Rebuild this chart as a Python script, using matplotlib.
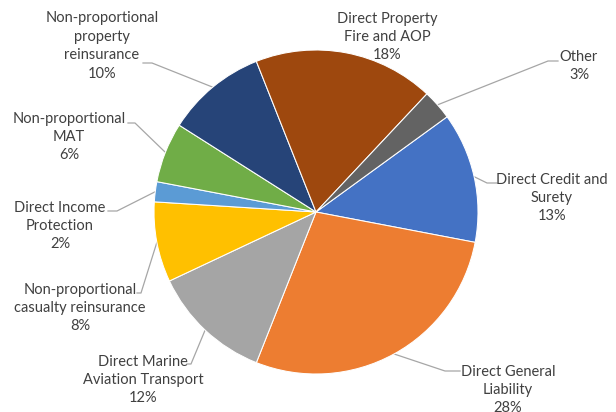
import numpy as np
import matplotlib.pyplot as plt

# Premium share by line of business
categories = [
    "Direct Credit and\nSurety",
    "Direct General\nLiability",
    "Direct Marine\nAviation Transport",
    "Non-proportional\ncasualty reinsurance",
    "Direct Income\nProtection",
    "Non-proportional\nMAT",
    "Non-proportional\nproperty\nreinsurance",
    "Direct Property\nFire and AOP",
    "Other",
]
shares = [13, 28, 12, 8, 2, 6, 10, 18, 3]

colors = ["#4472C4", "#ED7D31", "#A5A5A5", "#FFC000", "#5B9BD5",
          "#70AD47", "#264478", "#9E480E", "#636363"]

W, H = 616, 412
CX, CY, R = 316, 212, 162

# label centres and leader start / elbow points, in pixels from top-left
label_xy = [(552, 198), (508, 390), (143, 380), (80, 308), (60, 226),
            (69, 137), (102, 46), (387, 37), (579, 66)]
leader_pts = [
    [(497, 183), (487, 183)],
    [(460, 371), (445, 371)],
    [(187, 364), (191, 364)],
    [(137, 293), (141, 293)],
    [(108, 211), (117, 211)],
    [(128, 123), (135, 123)],
    [(143, 63), (152, 63)],
    None,
    [(558, 61), (548, 61)],
]

plt.rcParams['font.family'] = ['Lato', 'DejaVu Sans']

fig = plt.figure(figsize=(W / 100, H / 100), dpi=100)
ax = fig.add_axes([0, 0, 1, 1])

wedges, _ = ax.pie(shares, colors=colors, startangle=36, counterclock=False,
                   center=(CX, H - CY), radius=R,
                   wedgeprops=dict(edgecolor="white", linewidth=0.75))

for w, lab, val, (tx, ty), pts in zip(wedges, categories, shares, label_xy, leader_pts):
    ax.text(tx, H - ty, f"{lab}\n{val}%", ha="center", va="center",
            multialignment="center", fontsize=10.5, color="#404040",
            linespacing=1.4)
    if pts is None:
        continue
    mid = np.deg2rad((w.theta1 + w.theta2) / 2)
    ex = CX + R * np.cos(mid)
    ey = (H - CY) + R * np.sin(mid)
    xs = [p[0] for p in pts] + [ex]
    ys = [H - p[1] for p in pts] + [ey]
    ax.plot(xs, ys, color="#A6A6A6", linewidth=0.9, zorder=0.5)

ax.set_xlim(0, W)
ax.set_ylim(0, H)
ax.set_aspect("equal")
ax.axis("off")

fig.savefig("out.png", dpi=100)
